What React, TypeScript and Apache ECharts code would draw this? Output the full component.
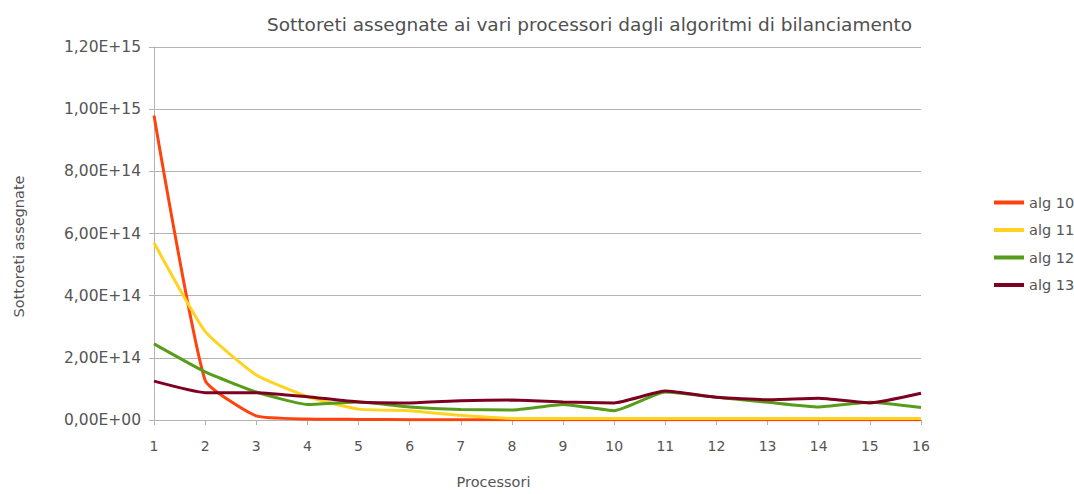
import React, { useEffect, useRef } from "react";
import * as echarts from "echarts";

const categories = ["1", "2", "3", "4", "5", "6", "7", "8", "9", "10", "11", "12", "13", "14", "15", "16"];
const alg10 = [9.8e14, 1.28e14, 1.3e13, 3e12, 2e12, 1e12, 1e12, 1e12, 1e12, 1e12, 1e12, 1e12, 1e12, 1e12, 1e12, 1e12];
const alg11 = [5.7e14, 2.85e14, 1.45e14, 7.5e13, 3.5e13, 3e13, 1.5e13, 5e12, 5e12, 5e12, 5e12, 5e12, 5e12, 5e12, 5e12, 5e12];
const alg12 = [2.45e14, 1.55e14, 9e13, 5e13, 5.8e13, 4.2e13, 3.4e13, 3.2e13, 5e13, 3e13, 9e13, 7.3e13, 5.7e13, 4.2e13, 5.7e13, 4e13];
const alg13 = [1.25e14, 8.8e13, 8.8e13, 7.5e13, 5.8e13, 5.5e13, 6.2e13, 6.4e13, 5.8e13, 5.5e13, 9.3e13, 7.3e13, 6.5e13, 7e13, 5.5e13, 8.6e13];
const seriesNames = ["alg 10", "alg 11", "alg 12", "alg 13"];
const colors = ["#ff420e", "#ffd320", "#579d1c", "#7e0021"];

function fmt(v: number): string {
  const s = v.toExponential(2);
  const [m, e] = s.split("e");
  const sign = e[0] === "-" ? "-" : "+";
  const digits = e.replace(/[+-]/, "").padStart(2, "0");
  return m.replace(".", ",") + "E" + sign + digits;
}

export default function App() {
  const ref = useRef<HTMLDivElement>(null);
  useEffect(() => {
    if (!ref.current) return;
    const chart = echarts.init(ref.current, undefined, { renderer: "svg" });
    const font = "DejaVu Sans";
    const data = [alg10, alg11, alg12, alg13];
    chart.setOption({
      animation: false,
      backgroundColor: "#ffffff",
      textStyle: { fontFamily: font },
      title: {
        text: "Sottoreti assegnate ai vari processori dagli algoritmi di bilanciamento",
        left: 262,
        top: 10,
        textStyle: { fontFamily: font, fontSize: 18.5, fontWeight: "normal", color: "#505050" },
      },
      legend: {
        orient: "vertical",
        left: 989,
        top: 190,
        itemGap: 12.5,
        itemWidth: 30,
        itemHeight: 14,
        icon: "path://M0,5 L30,5 L30,9 L0,9 Z",
        textStyle: { fontFamily: font, fontSize: 14.5, color: "#555" },
        data: seriesNames,
      },
      grid: { left: 154, right: 153, top: 47, bottom: 73 },
      xAxis: {
        type: "category",
        data: categories,
        boundaryGap: false,
        name: "Processori",
        nameLocation: "middle",
        nameGap: 54,
        nameTextStyle: { fontFamily: font, fontSize: 14.5, color: "#555", padding: [0, 88, 0, 0] },
        axisLine: { lineStyle: { color: "#b3b3b3" } },
        axisTick: { alignWithLabel: true, length: 5, lineStyle: { color: "#b3b3b3" } },
        axisLabel: { fontFamily: font, fontSize: 14, color: "#555", margin: 19 },
        splitLine: { show: false },
      },
      yAxis: {
        type: "value",
        min: 0,
        max: 1.2e15,
        interval: 2e14,
        name: "Sottoreti assegnate",
        nameLocation: "middle",
        nameGap: 128,
        nameTextStyle: { fontFamily: font, fontSize: 14.5, color: "#555", padding: [0, 26, 0, 0] },
        axisLine: { show: true, lineStyle: { color: "#b3b3b3" } },
        axisTick: { show: true, length: 5, lineStyle: { color: "#b3b3b3" } },
        axisLabel: { fontFamily: font, fontSize: 15.5, color: "#555", margin: 13, formatter: (v: number) => fmt(v) },
        splitLine: { lineStyle: { color: "#b3b3b3" } },
      },
      series: seriesNames.map((n, i) => ({
        name: n,
        type: "line",
        data: data[i],
        symbol: "none",
        smooth: 0.15,
        lineStyle: { width: 3, color: colors[i] },
        itemStyle: { color: colors[i] },
      })),
    });
    return () => chart.dispose();
  }, []);
  return <div ref={ref} style={{ width: 1074, height: 494, position: "absolute", left: 0, top: 0 }} />;
}
